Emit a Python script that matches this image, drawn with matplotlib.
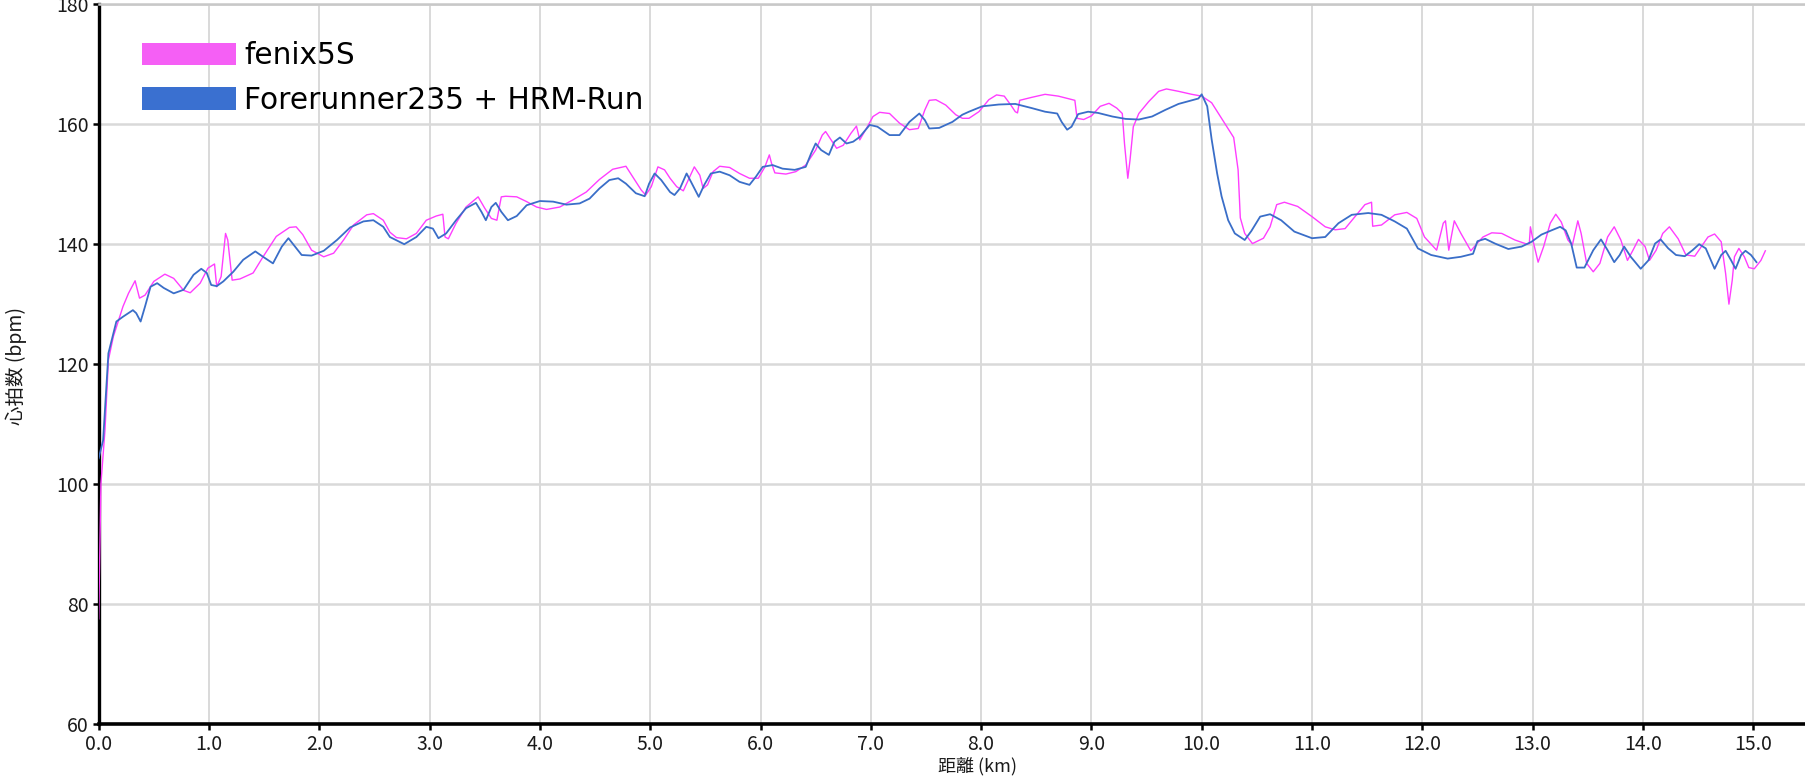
import matplotlib
matplotlib.use("Agg")
import matplotlib.pyplot as plt
from matplotlib.patches import Patch
from matplotlib.ticker import MultipleLocator, FormatStrFormatter

plt.rcParams['font.family'] = ['Noto Sans CJK JP', 'DejaVu Sans']

series_names = ["fenix5S", "Forerunner235 + HRM-Run"]

fenix_km = [0.00, 0.02, 0.057, 0.088, 0.133, 0.22, 0.27, 0.33, 0.37, 0.42, 0.50, 0.60, 0.68, 0.77, 0.83,
            0.92, 0.99, 1.05, 1.07, 1.11, 1.15, 1.17, 1.21, 1.28, 1.40, 1.49, 1.61, 1.73, 1.79, 1.85,
            1.93, 2.04, 2.13, 2.22, 2.31, 2.43, 2.49, 2.58, 2.64, 2.70, 2.79, 2.88, 2.97, 3.06, 3.12,
            3.14, 3.17, 3.24, 3.33, 3.44, 3.50, 3.56, 3.61, 3.65, 3.69, 3.79, 3.88, 3.97, 4.06, 4.18,
            4.30, 4.42, 4.54, 4.66, 4.78, 4.84, 4.92, 4.96, 5.01, 5.07, 5.13, 5.18, 5.24, 5.30, 5.36,
            5.40, 5.45, 5.48, 5.52, 5.57, 5.63, 5.72, 5.81, 5.90, 5.98, 6.04, 6.08, 6.10, 6.13, 6.23,
            6.32, 6.41, 6.50, 6.56, 6.59, 6.64, 6.69, 6.75, 6.82, 6.87, 6.90, 6.96, 7.02, 7.08, 7.17,
            7.26, 7.35, 7.43, 7.49, 7.53, 7.59, 7.68, 7.77, 7.83, 7.89, 7.98, 8.07, 8.14, 8.21, 8.27,
            8.31, 8.33, 8.35, 8.46, 8.58, 8.70, 8.85, 8.87, 8.93, 9.00, 9.08, 9.16, 9.23, 9.28, 9.30,
            9.33, 9.35, 9.38, 9.43, 9.52, 9.61, 9.68, 9.79, 9.91, 10.00, 10.09, 10.18, 10.29, 10.33, 10.35,
            10.39, 10.46, 10.56, 10.62, 10.68, 10.75, 10.87, 11.00, 11.12, 11.21, 11.30, 11.39, 11.48, 11.54, 11.55,
            11.63, 11.75, 11.86, 11.95, 12.02, 12.13, 12.19, 12.21, 12.24, 12.29, 12.35, 12.44, 12.50, 12.55, 12.63,
            12.72, 12.84, 12.95, 12.97, 12.98, 13.01, 13.05, 13.10, 13.16, 13.21, 13.26, 13.32, 13.36, 13.41, 13.44,
            13.49, 13.55, 13.61, 13.68, 13.74, 13.80, 13.86, 13.91, 13.96, 14.02, 14.06, 14.12, 14.18, 14.24, 14.32,
            14.39, 14.47, 14.53, 14.59, 14.65, 14.71, 14.75, 14.78, 14.81, 14.83, 14.87, 14.92, 14.96, 15.01, 15.07,
            15.11]
fenix_bpm = [77.5, 100.0, 109.0, 120.7, 124.6, 129.6, 131.8, 133.9, 131.0, 131.5, 133.8, 135.0, 134.3, 132.3, 131.9,
             133.5, 136.0, 136.7, 132.9, 134.6, 141.8, 140.7, 134.0, 134.2, 135.2, 137.9, 141.3, 142.8, 142.9, 141.6,
             139.0, 137.9, 138.5, 140.7, 143.2, 144.9, 145.1, 144.0, 142.0, 141.1, 140.9, 141.8, 144.0, 144.7, 145.0,
             141.2, 140.9, 143.5, 146.2, 147.9, 146.0, 144.3, 144.0, 147.9, 148.0, 147.9, 147.1, 146.2, 145.8, 146.2,
             147.4, 148.7, 150.8, 152.5, 153.0, 151.3, 149.0, 148.2, 149.6, 152.9, 152.4, 151.0, 149.6, 148.9, 151.3,
             152.9, 151.5, 149.3, 149.9, 152.1, 153.0, 152.8, 151.8, 151.0, 151.0, 152.9, 154.9, 153.5, 151.9, 151.7,
             152.1, 153.2, 155.7, 158.2, 158.8, 157.4, 156.0, 156.5, 158.5, 159.7, 157.4, 159.3, 161.3, 162.0, 161.8,
             160.2, 159.1, 159.3, 162.4, 164.0, 164.1, 163.2, 161.6, 161.0, 161.0, 162.1, 164.1, 164.9, 164.7, 163.2,
             162.1, 161.9, 164.0, 164.5, 165.0, 164.7, 164.0, 161.0, 160.8, 161.4, 163.0, 163.5, 162.7, 161.8, 156.8,
             151.0, 154.0, 159.6, 161.8, 163.8, 165.5, 165.9, 165.5, 165.0, 164.7, 163.6, 161.0, 157.8, 152.4, 144.4,
             141.8, 140.1, 141.0, 142.9, 146.6, 147.0, 146.3, 144.6, 142.9, 142.4, 142.6, 144.6, 146.6, 147.0, 143.0,
             143.2, 144.9, 145.3, 144.3, 141.2, 139.0, 143.5, 143.9, 139.0, 143.9, 141.8, 138.9, 140.2, 141.2, 141.9,
             141.8, 140.7, 140.0, 140.1, 142.9, 140.1, 137.0, 139.6, 143.5, 145.0, 143.7, 140.7, 139.8, 143.9, 141.8,
             136.8, 135.4, 136.8, 141.2, 142.9, 140.7, 137.3, 139.0, 140.8, 139.6, 137.3, 139.0, 141.8, 142.9, 140.9,
             138.2, 138.0, 139.6, 141.2, 141.7, 140.4, 135.1, 130.0, 134.0, 137.9, 139.3, 137.9, 136.1, 135.9, 137.3,
             138.9]

fr_km = [0.00, 0.04, 0.088, 0.16, 0.22, 0.31, 0.34, 0.38, 0.42, 0.47, 0.53, 0.59, 0.68, 0.77, 0.86,
         0.93, 0.98, 1.02, 1.07, 1.13, 1.22, 1.31, 1.42, 1.49, 1.58, 1.66, 1.72, 1.78, 1.84, 1.93,
         2.04, 2.16, 2.28, 2.40, 2.49, 2.58, 2.64, 2.77, 2.88, 2.97, 3.03, 3.08, 3.15, 3.24, 3.33,
         3.42, 3.47, 3.51, 3.56, 3.60, 3.65, 3.71, 3.79, 3.88, 4.00, 4.12, 4.24, 4.36, 4.45, 4.54,
         4.63, 4.71, 4.78, 4.87, 4.95, 4.99, 5.04, 5.10, 5.18, 5.22, 5.27, 5.33, 5.37, 5.44, 5.49,
         5.55, 5.63, 5.72, 5.81, 5.90, 5.96, 6.02, 6.11, 6.20, 6.31, 6.41, 6.46, 6.50, 6.55, 6.62,
         6.67, 6.72, 6.78, 6.84, 6.90, 6.99, 7.06, 7.17, 7.26, 7.35, 7.44, 7.49, 7.53, 7.62, 7.74,
         7.83, 7.89, 8.01, 8.16, 8.31, 8.46, 8.58, 8.69, 8.73, 8.78, 8.82, 8.88, 8.97, 9.06, 9.19,
         9.31, 9.43, 9.55, 9.67, 9.79, 9.91, 9.97, 10.00, 10.05, 10.09, 10.14, 10.18, 10.24, 10.30, 10.39,
         10.45, 10.53, 10.62, 10.72, 10.84, 11.00, 11.12, 11.24, 11.36, 11.51, 11.63, 11.75, 11.86, 11.96, 12.08,
         12.23, 12.35, 12.46, 12.50, 12.57, 12.66, 12.78, 12.90, 12.99, 13.08, 13.17, 13.25, 13.30, 13.35, 13.40,
         13.47, 13.55, 13.62, 13.68, 13.74, 13.79, 13.83, 13.89, 13.98, 14.05, 14.11, 14.16, 14.23, 14.30, 14.38,
         14.45, 14.51, 14.57, 14.65, 14.71, 14.75, 14.80, 14.84, 14.89, 14.93, 14.98, 15.03]
fr_bpm = [104.3, 107.3, 121.8, 127.1, 127.9, 129.0, 128.5, 127.1, 129.6, 132.9, 133.5, 132.7, 131.8, 132.4, 134.9,
          135.9, 135.2, 133.2, 133.0, 133.8, 135.4, 137.4, 138.8, 137.9, 136.8, 139.6, 141.0, 139.6, 138.2, 138.1,
          138.9, 140.7, 142.8, 143.8, 144.0, 142.9, 141.2, 140.0, 141.2, 142.9, 142.6, 141.0, 141.8, 144.0, 146.0,
          146.9, 145.4, 144.0, 146.2, 146.9, 145.4, 144.0, 144.7, 146.5, 147.2, 147.1, 146.6, 146.8, 147.6, 149.3,
          150.7, 151.0, 150.1, 148.5, 148.0, 150.1, 151.8, 150.7, 148.7, 148.2, 149.3, 151.8, 150.4, 147.9, 149.9,
          151.8, 152.1, 151.5, 150.4, 149.9, 151.3, 152.9, 153.2, 152.6, 152.4, 152.9, 155.2, 156.8, 155.7, 154.9,
          157.1, 157.8, 156.8, 157.1, 157.9, 159.9, 159.6, 158.2, 158.2, 160.4, 161.8, 160.7, 159.3, 159.4, 160.4,
          161.6, 162.1, 163.0, 163.3, 163.4, 162.7, 162.1, 161.8, 160.4, 159.1, 159.6, 161.7, 162.1, 161.9, 161.3,
          160.9, 160.8, 161.3, 162.4, 163.4, 164.0, 164.3, 165.0, 163.0, 157.5, 151.8, 148.0, 144.0, 141.8, 140.7,
          142.2, 144.6, 145.0, 144.0, 142.1, 141.0, 141.2, 143.5, 144.9, 145.2, 144.9, 143.8, 142.6, 139.3, 138.2,
          137.6, 137.9, 138.4, 140.5, 140.9, 140.1, 139.2, 139.6, 140.4, 141.6, 142.3, 142.9, 142.3, 140.1, 136.1,
          136.1, 139.0, 140.8, 139.0, 137.0, 138.2, 139.6, 137.9, 135.9, 137.3, 140.1, 140.8, 139.3, 138.2, 138.0,
          139.0, 140.0, 139.3, 135.9, 138.2, 138.9, 137.3, 135.9, 138.2, 138.9, 138.2, 137.0]

y_ticks = [60, 80, 100, 120, 140, 160, 180]
x_label = "距離 (km)"
y_label = "心拍数 (bpm)"

line_colors = ["#FF3DFF", "#3A6EC8"]
legend_colors = ["#F55FF5", "#3A70D0"]

W, H = 1805, 776
fig = plt.figure(figsize=(W / 100, H / 100), dpi=100)
left = 98.7 / W
bottom = 1 - 723.8 / H
top = 1 - 4.4 / H
ax = fig.add_axes([left, bottom, 1 - left, top - bottom])

ax.plot(fenix_km, fenix_bpm, color=line_colors[0], lw=1.0, zorder=3, solid_joinstyle='round')
ax.plot(fr_km, fr_bpm, color=line_colors[1], lw=1.3, zorder=4, solid_joinstyle='round')

ax.set_xlim(0, (W - 98.7) / 110.3)
ax.set_ylim(60, 180)
ax.xaxis.set_major_locator(MultipleLocator(1.0))
ax.xaxis.set_major_formatter(FormatStrFormatter('%.1f'))
ax.set_yticks(y_ticks)

ax.grid(True, axis='y', color='#D9D9D9', lw=1.8, zorder=0)
ax.grid(True, axis='x', color='#D3D3D3', lw=1.2, zorder=0)
ax.set_axisbelow(True)

ax.spines['right'].set_visible(False)
ax.spines['top'].set_color('#C8C8C8')
ax.spines['top'].set_linewidth(1.8)
ax.spines['left'].set_color('black')
ax.spines['left'].set_linewidth(2.4)
ax.spines['bottom'].set_color('black')
ax.spines['bottom'].set_linewidth(2.6)

ax.tick_params(axis='both', direction='out', length=4, width=1.8, color='black',
               labelsize=14, labelcolor='#1a1a1a', pad=3)

fig.text(16 / W, 1 - 366 / H, y_label, rotation=90, ha='center', va='center', fontsize=14, color='#1a1a1a')
fig.text(977 / W, 1 / H, x_label, ha='center', va='bottom', fontsize=13, color='#1a1a1a')

handles = [Patch(facecolor=legend_colors[0], edgecolor='none'),
           Patch(facecolor=legend_colors[1], edgecolor='none')]
ax.legend(handles, series_names, loc='upper left', bbox_to_anchor=(141.6 / W, 1 - 41.5 / H),
          bbox_transform=fig.transFigure, frameon=False,
          prop={'family': ['DejaVu Sans'], 'size': 21.3}, handlelength=3.2,
          handleheight=0.79, handletextpad=0.27, labelspacing=0.52, borderpad=0, borderaxespad=0)

fig.savefig("out.png", dpi=100)
